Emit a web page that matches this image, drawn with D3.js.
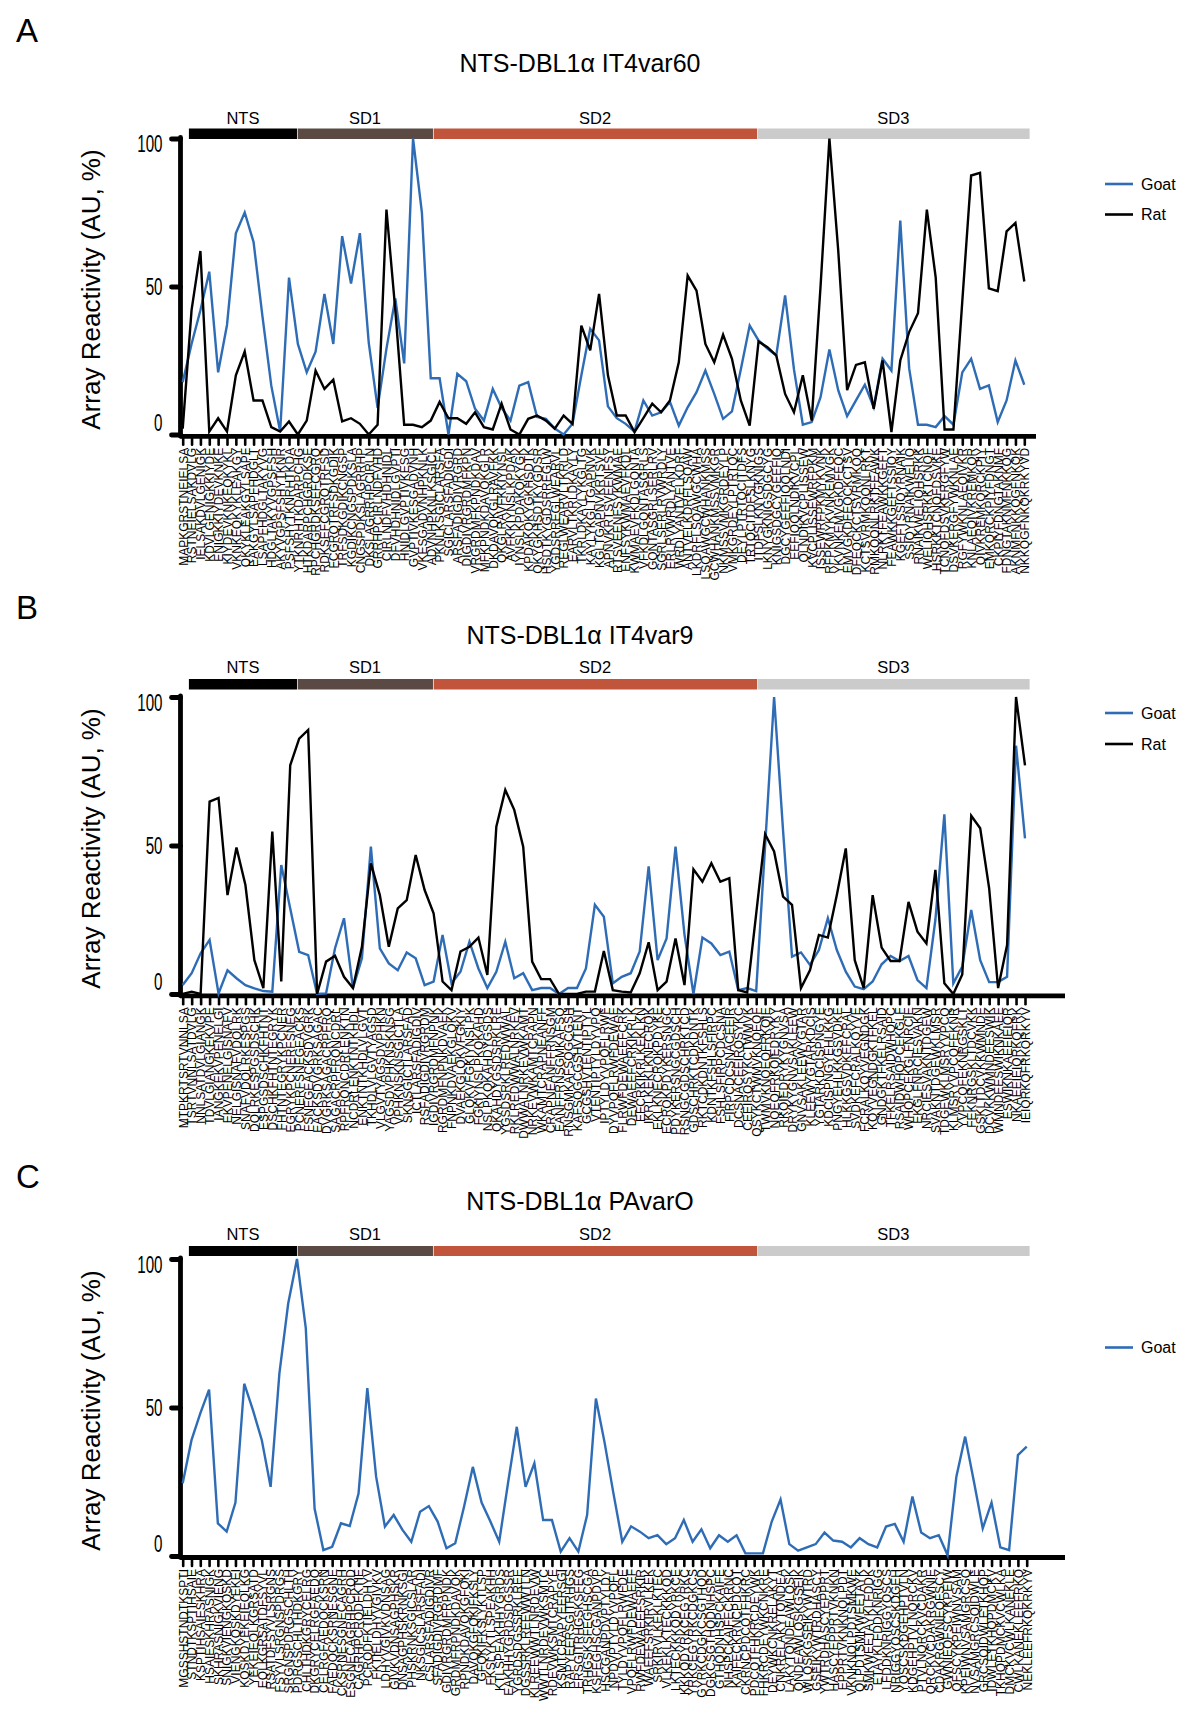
<!DOCTYPE html>
<html><head><meta charset="utf-8">
<script src="https://cdn.jsdelivr.net/npm/d3@7/dist/d3.min.js"></script>
<style>body{margin:0;background:#fff}</style>
</head><body>
<svg id="chart" width="1200" height="1724"></svg>
<script>
const FONT = '"Liberation Sans", Arial, Helvetica, sans-serif';

// ---------- domain annotation ----------
const domainNames = ["NTS", "SD1", "SD2", "SD3"];
const domainColors = ["#000000", "#5a4a43", "#c0553b", "#cbcbcb"];
const domainBounds = [0.7, 12.9, 28.25, 64.85, 95.6];   // peptide-position units
const seriesNames = ["Goat", "Rat"];
const seriesColors = ["#2f6cb6", "#000000"];
const yTicks = [0, 50, 100];

// ---------- Panel A : NTS-DBL1α IT4var60 ----------
const titleA = "NTS-DBL1α IT4var60";
const peptidesA = ["MAPKGRSTNEIELSA","RSTNEIELSAKDVLG","IELSAKDVLGENIGK","KDVLGENIGKKIYDE","ENIGKKIYDEVKNKE","KIYDEVKNKEQKYKL","VKNKEQKYKLEAKGY","QKYKLEAKGYLSAPF","EAKGYLSAPFHDGLT","LSAPFHDGLTAKYVG","HDGLTAKYVGPSFSH","AKYVGPSFSHYTKNR","PSFSHYTKNRHTKDA","YTKNRHTKDARPCHG","HTKDARPCHGRDKSE","RPCHGRDKSEFCGRQ","RDKSEFCGRQTRFSD","FCGRQTRFSDKGDIK","TRFSDKGDIKCNGSP","KGDIKCNGSPDKSLA","CNGSPDKSLAGRRHP","DKSLAGRRHPCIRLN","GRRHPCIRLNDFVHD","CIRLNDFVHDHNIDL","DFVHDHNIDLGVPTI","HNIDLGVPTIVKESG","GVPTIVKESGADVNH","VKESGADVNHPKNLK","ADVNHPKNLKSGICL","PKNLKSGICLARSFA","SGICLARSFADIGDI","ARSFADIGDIVRGRD","DIGDIVRGRDMFKPN","VRGRDMFKPNDKDAV","MFKPNDKDAVQKGLR","DKDAVQKGLRAVFKK","QKGLRAVFKKIYNSL","AVFKKIYNSLKPDAK","IYNSLKPDAKQKYGK","KPDAKQKYGKHSDTK","QKYGKHSDTKYGDSR","HSDTKYGDSRREGLW","YGDSRREGLWEARVL","REGLWEARVLTKRLD","EARVLTKRLDKAYLY","TKRLDKAYLYKGLTG","KAYLYKGLTGAPNVK","KGLTGAPNVKRTSVE","APNVKRTSVEENFSY","RTSVEENFSYKWMAE","ENFSYKWMAEVFKDL","KWMAEVFKDLGQNTA","VFKDLGQNTASGRLS","GQNTASGRLSERLRV","SGRLSERLRVWRDLY","ERLRVWRDLYANTVE","WRDLYANTVELKDRF","ANTVELKDRFLSQAW","LKDRFLSQAWGCWHA","LSQAWGCWHANKMSS","GCWHANKMSSVMKGR","NKMSSVMKGRDEYLP","VMKGRDEYLPTRTQC","DEYLPTRTQCITDFS","TRTQCITDFSLKNYG","ITDFSLKNYGKNIGS","LKNYGKNIGSDGCYG","KNIGSDGCYGEEFIQ","DGCYGEEFIQQLNDI","EEFIQQLNDIKVCPL","QLNDIKVCPLISSEW","KVCPLISSEWRFPKM","ISSEWRFPKMYKVNK","RFPKMYKVNKEMVGK","YKVNKEMVGKDFEQC","EMVGKDFEQCKCTSV","DFEQCKCTSVRMKQQ","KCTSVRMKQQNLRKT","RMKQQNLRKTFEAWK","NLRKTFEAWKKGEFT","FEAWKKGEFTSSIQY","KGEFTSSIQYRNAIK","SSIQYRNAIKWELIQ","RNAIKWELIQHSRKK","WELIQHSRKKTCNQF","HSRKKTCNQFDSVKE","TCNQFDSVKERGFYW","DSVKERGFYWKNLAE","RGFYWKNLAEQIVKR","KNLAEQIVKREMKQR","QIVKREMKQRCKPIY","EMKQRCKPIYFDNGT","CKPIYFDNGTAKNMF","FDNGTAKNMFNKKQG","AKNMFNKKQGFNKQK","NKKQGFNKQKRKYVD"];
const goatA = [17.7,30.6,42,55,21,37,68,75,65,40,16.5,1,53,30.6,21,28,47.5,30.6,67,51,68,31,9,29,46,24,100,75,19,19,0,20.5,18,8.7,4.7,15.4,9,4.7,16.5,17.7,5.9,5.3,2,0,3.6,20,35.7,31.8,9.5,5.5,3.6,1,11.5,6.4,7.5,11,3,9.2,14.3,21.6,13.7,5.3,7.8,22,36.8,31.8,29,26.7,47,22,3.3,4.2,12.6,28.7,14.9,6.2,11.5,16.8,9.2,25.6,21.6,72.3,22.4,3.3,3.3,2.5,6.2,3.3,21,25.6,15.4,16.6,4.2,11.5,25,16.8];
const ratA = [2,42,62,1,5.5,1,20,28,11.5,11.5,2.5,1,4.4,0,4.7,21.6,15.4,18.5,4.4,5.5,3.6,0,3.3,76,42,3.3,3.3,2.5,4.7,11,5.5,5.5,3.6,7.5,2.5,1.7,10.4,1.7,0,5.3,6.4,4.7,2,6.4,3.6,36.8,28.4,47.5,20,6.4,6.4,0.8,5.5,10.4,7.5,11.5,24.4,53.7,48.6,30.6,24.4,33.7,25.6,11.5,3,31.4,29.5,26.7,13.7,7.5,20,4.7,50,100,62,15,23.5,24.4,8.7,25,0.8,25,34.6,41,76,53,1.7,1.7,45,87.5,88.4,49.4,48.4,68.6,71.5,51.7];

// ---------- Panel B : NTS-DBL1α IT4var9 ----------
const titleB = "NTS-DBL1α IT4var9";
const peptidesB = ["MTPKRTSRTVNNLSA","TSRTVNNLSATDVLG","NNLSATDVLGIANGK","TDVLGIANGKEKVPE","IANGKEKVPENELGI","EKVPENELGISNAFV","NELGISNAFVDQLRK","SNAFVDQLRKESPGS","DQLRKESPGSDSCHK","ESPGSDSCHKFHTNT","DSCHKFHTNTEGRYK","FHTNTEGRYKPCNER","EGRYKPCNERFSNEG","PCNERFSNEGEACKS","FSNEGEACKSDVGRK","EACKSDVGRKSAGAC","DVGRKSAGACRPFRQ","SAGACRPFRQNCDRL","RPFRQNCDRLENKTN","NCDRLENKTNTKHDL","ENKTNTKHDLVLGVT","TKHDLVLGVTYAGSD","VLGVTYAGSDVPHKN","YAGSDVPHKNSKNSG","VPHKNSKNSGICTLA","SKNSGICTLARSFAD","ICTLARSFADIGDIV","RSFADIGDIVRGRDM","IGDIVRGRDMFNPNK","RGRDMFNPNKDVAEK","FNPNKDVAEKGLQKV","DVAEKGLQKVFGKIY","GLQKVFGKIYNSLPK","FGKIYNSLPKQKAHD","NSLPKQKAHDYGSDS","QKAHDYGSDSRKLRE","YGSDSRKLREDWWAL","RKLREDWWALNRKEV","DWWALNRKEVWKAMT","NRKEVWKAMTCRAPN","WKAMTCRAPNEANFF","CRAPNEANFFRNSGM","EANFFRNSGMKAFSQ","RNSGMKAFSQGCGSH","KAFSQGCGSHVTENT","GCGSHVTENTIPTYL","VTENTIPTYLDYVPQ","IPTYLDYVPQFLRWF","DYVPQFLRWFDEWAE","FLRWFDEWAEEFCRK","DEWAEEFCRKIKRLK","EFCRKIKRLKEKLKN","IKRLKEKLKNECRQK","EKLKNECRQKPDYKE","ECRQKPDYKERSNGC","PDYKERSNGCGDSCH","RSNGCGDSCHRKTCD","GDSCHRKTCDKDNTK","RKTCDKDNTKFSHLS","KDNTKFSHLSFIRPC","FSHLSFIRPCDCSNA","FIRPCDCSNACEEIR","DCSNACEEIRQSYKC","CEEIRQSYKCTWMVK","QSYKCTWMVKNQEQF","TWMVKNQEQFRKQIE","NQEQFRKQIEDRYKY","RKQIEDRYKYGNVSA","DRYKYGNVSAKLEEW","GNVSAKLEEWYGTAR","KLEEWYGTARKDCIS","YGTARKDCISPNGYE","KDCISPNGYEHLKKG","PNGYEHLKKGSVDKE","HLKKGSVDKEFCRAL","SVDKEFCRALKQYVE","FCRALKQYVEGNDGK","KQYVEGNDGKTFKEL","GNDGKTFKELRSAID","TFKELRSAIDWHQPC","RSAIDWHQPCEKGLF","WHQPCEKGLFNRCIE","EKGLFNRCIESVAKN","NRCIESVAKNTDGEW","SVAKNTDGEWKLMSR","TDGEWKLMSRYVPCQ","KLMSRYVPCQFEKNR","YVPCQFEKNRGSKLT","FEKNRGSKLTDCVKK","GSKLTDCVKKWMNDE","DCVKKWMNDEESWIK","WMNDEESWIKNKAEE","ESWIKNKAEEIEIQR","NKAEEIEIQRKQFRK","IEIQRKQFRKQRKYV"];
const goatB = [3,7,13.7,18.2,0.2,8,5.3,3,1.9,1,0.8,43.4,28.8,14.2,13.1,0,0.2,15.4,25.5,2,12,49.6,15.4,10.3,8,14,12,3,4.2,19.9,3.6,7.5,17.6,8.6,2,7.5,17.6,5.3,7,1.3,2,2,0,2,2,8.6,30,26,3.6,5.8,7,14.3,43,11.4,18.7,49.6,20,0,19,17,13.1,14.3,1.3,2,1,50,100,55,12.6,14,9.8,14.8,25.5,14.8,7.5,2.5,1.6,4.2,10,12.8,11.1,12.8,4.7,2,25,60.5,3.6,9.2,28.3,11.4,4,4,5.8,83.6,52.4];
const ratB = [0,0.8,0,64.8,66,33.3,49.3,36.7,11.4,2,54.7,4.2,77,86,88.9,0,10.9,12.9,5.8,2,15.9,44,33.3,15.9,28.8,31.6,46.8,35,27.2,4.2,1.3,14.3,15.9,19,6.4,56.3,68.7,62,49.6,10.9,5,5,0,0,0,0.8,0.8,14.5,1.3,0.8,0.5,7,17.4,1.3,4.2,18.7,3,42,37.8,44,37.8,39,1.3,0.5,27,53.8,48,32.8,30,2,8,19.9,19,33.3,49,11.4,2,33.3,15.6,11.1,11.1,31,21,17,41.8,3.6,0,6.6,60,55.8,35.6,2,16.5,100,77];

// ---------- Panel C : NTS-DBL1α PAvarO ----------
const titleC = "NTS-DBL1α PAvarO";
const peptidesC = ["MGSSHSTNDTKSPTI","STNDTKSPTIHSAIE","KSPTIHSAIESKHRA","HSAIESKHRASNIGK","SKHRASNIGKVIENG","SNIGKVIENGKQSKD","VIENGKQSKDYEKEI","KQSKDYEKEIEQLKG","YEKEIEQLKGRSATD","EQLKGRSATDFSYVL","RSATDFSYVLSRGNS","FSYVLSRGNSPDRGS","SRGNSPDRGSCHLTH","PDRGSCHLTHDKGRY","CHLTHDKGRYCELRG","DKGRYCELRGFAEDQ","CELRGFAEDQCKSRN","FAEDQCKSRNESGNE","CKSRNESGNECAGRH","ESGNECAGRHPCRQD","CAGRHPCRQDFKTIE","PCRQDFKTIELDHYV","FKTIELDHYVGIVKV","LDHYVGIVKVDNSAG","GIVKVDNSAGPHSKR","DNSAGPHSKRNKSGI","PHSKRNKSGICSLAR","NKSGICSLARSFADI","CSLARSFADIGDIVR","SFADIGDIVRGRDMF","GDIVRGRDMFRPNDK","GRDMFRPNDKDAVQK","RPNDKDAVQKGFQKI","DAVQKGFQKIFKSLY","GFQKIFKSLYKTLSP","FKSLYKTLSPEAKHH","KTLSPEAKHHYGRDS","EAKHHYGRDSDGSSR","YGRDSDGSSRKLREE","DGSSRKLREEWWTLN","KLREEWWTLNRDEVW","WWTLNRDEVWKSMTC","RDEVWKSMTCRAPYE","KSMTCRAPYEERSGI","RAPYEERSGITRHGS","ERSGITRHGSKSFEG","TRHGSKSFEGHSCGA","KSFEGHSCGANPDVP","HSCGANPDVPTYLDY","NPDVPTYLDYVPQFL","TYLDYVPQFLRWFDE","VPQFLRWFDEWAEEF","RWFDEWAEEFSRKIR","WAEEFSRKIRVLKEK","SRKIRVLKEKLKTEC","VLKEKLKTECKKKQD","LKTECKKKQDYRKCE","KKKQDYRKCEGYRKC","YRKCEGYRKCDGKCS","GYRKCDGKCSGTHQD","DGKCSGTHQDNHSPC","GTHQDNHSPCKAIFE","NHSPCKAIFECKRNC","KAIFECKRNCPDCQT","CKRNCPDCQTFHKRC","PDCQTFHKRCDEYWK","FHKRCDEYWKCNKRE","DEYWKCNKRELAKYT","CNKRELAKYTQNDEA","LAKYTQNDEAWLQSK","QNDEAWLQSKGSEIK","WLQSKGSEIKYWTRD","GSEIKYWTRDHASCY","YWTRDHASCYEPPRT","HASCYEPPRTVKNKN","EPPRTVKNKNQLPDT","VKNKNQLPDTSMKWE","QLPDTSMKWEETAYK","SMKWEETAYKLFDDK","ETAYKLFDDKNRIGG","LFDDKNRIGGYQSCS","NRIGGYQSCSKDGEH","YQSCSKDGEHPTVLN","KDGEHPTVLNQRCKV","PTVLNQRCKVCDAKR","QRCKVCDAKRGWNIE","CDAKRGWNIEQFSCY","GWNIEQFSCYKPEIW","QFSCYKPEIWNVSAM","KPEIWNVSAMGRCSQ","NVSAMGRCSQIDWLE","GRCSQIDWLETKHQP","IDWLETKHQPDMCKV","TKHQPDMCKVCWLKA","DMCKVCWLKANEKLE","CWLKANEKLEEFRKQ","NEKLEEFRKQKRKYV"];
const goatC = [24.5,39,48,56,11,8.2,18,58,49,39,23.3,61.5,85,100,76.7,16,2,3.1,11,10.1,21,56.5,26.7,9.9,13.8,8.8,4.8,14.9,16.8,11.6,2.6,4.3,16.6,30,18,11.6,4.8,24.5,43.5,23.3,31.2,12.1,12.1,1.5,6,1.5,13.8,53,38,21,4.8,10,8.2,6,7,4,6,12.1,4.8,9,2.6,7,4.8,7,0.9,0.9,0.9,11.6,19,4,1.8,2.9,4,7.9,5.2,4.8,2.9,6,4,2.9,9.9,10.8,4.8,20,7.9,6,7,0.3,26.7,40.2,25,9.3,18,2.9,2,34,36.8];

// ---------- layout ----------
const panels = [
  {letter:"A", title:titleA, labels:peptidesA, series:[goatA, ratA], xEnd:1024.3, axisEnd:1036,
   letterY:42, titleY:71.5, domLabelY:124, barY:128.5, barH:10.5, y0:434.5, y100:138.5, axisY:436.3, legendY:[184, 214.5]},
  {letter:"B", title:titleB, labels:peptidesB, series:[goatB, ratB], xEnd:1025, axisEnd:1065,
   letterY:619, titleY:643.5, domLabelY:673, barY:679, barH:10.5, y0:994, y100:697, axisY:995.8, legendY:[713, 744]},
  {letter:"C", title:titleC, labels:peptidesC, series:[goatC], xEnd:1026.7, axisEnd:1065,
   letterY:1188, titleY:1210, domLabelY:1240, barY:1246, barH:10, y0:1556, y100:1259, axisY:1557.5, legendY:[1347.5]}
];

const svg = d3.select("#chart").style("font-family", FONT);
svg.append("rect").attr("width",1200).attr("height",1724).attr("fill","#fff");

const barScale = d3.scaleLinear().domain([0, 95]).range([182.7, 1024.3]);
const X0 = 182.7, YAXIS_X = 180.5;
const TICK_SX = 0.66;

panels.forEach(p => {
  const g = svg.append("g");
  const n = p.labels.length;
  const x = d3.scalePoint().domain(d3.range(n)).range([X0, p.xEnd]);
  const y = d3.scaleLinear().domain([0, 100]).range([p.y0, p.y100]);

  g.append("text").attr("x", 16).attr("y", p.letterY).attr("font-size", 33).text(p.letter);
  g.append("text").attr("x", 580).attr("y", p.titleY).attr("text-anchor","middle")
    .attr("font-size", 25).text(p.title);

  // domain bars
  domainNames.forEach((nm, k) => {
    const a = barScale(domainBounds[k]), b = barScale(domainBounds[k+1]);
    g.append("rect").attr("x", a + (k ? 0.7 : 0)).attr("y", p.barY)
      .attr("width", b - a - (k ? 0.7 : 0)).attr("height", p.barH).attr("fill", domainColors[k]);
    g.append("text").attr("x", (a+b)/2).attr("y", p.domLabelY).attr("text-anchor","middle")
      .attr("font-size", 16.5).text(nm);
  });

  // x axis with peptide labels
  const xAxis = d3.axisBottom(x).tickSize(7).tickSizeOuter(0).tickFormat(i => p.labels[i]);
  const gx = g.append("g").attr("transform", `translate(0,${p.axisY+1.5})`).call(xAxis);
  gx.select(".domain").remove();
  gx.selectAll(".tick line").attr("stroke","#000").attr("stroke-width",2.6).attr("stroke-linecap","round");
  gx.selectAll(".tick text").attr("transform","rotate(-90)").attr("text-anchor","end")
    .attr("x", -10).attr("y", 0).attr("dy","0.36em").attr("font-size", 12)
    .attr("font-family", FONT).attr("fill","#000");
  g.append("line").attr("x1", YAXIS_X).attr("x2", p.axisEnd).attr("y1", p.axisY).attr("y2", p.axisY)
    .attr("stroke","#000").attr("stroke-width",4.8);

  // y axis
  const yAxis = d3.axisLeft(y).tickValues(yTicks).tickSize(9).tickPadding(8).tickSizeOuter(0);
  const gy = g.append("g").attr("transform", `translate(${YAXIS_X},0)`).call(yAxis);
  gy.select(".domain").remove();
  gy.selectAll(".tick line").attr("stroke","#000").attr("stroke-width",4.8).attr("stroke-linecap","round");
  gy.selectAll(".tick text").attr("font-size", 23).attr("font-family", FONT).attr("fill","#000")
    .attr("x", -18 / TICK_SX).attr("transform", `scale(${TICK_SX},1)`)
    .attr("dy", d => d === 0 ? "-0.18em" : d === 100 ? "0.58em" : "0.33em");
  g.append("line").attr("x1", YAXIS_X).attr("x2", YAXIS_X).attr("y1", p.y100 - 1).attr("y2", p.axisY)
    .attr("stroke","#000").attr("stroke-width",4.8).attr("stroke-linecap","round");

  g.append("text").attr("transform", `translate(100,${(p.y0+p.y100)/2 + 3}) rotate(-90)`)
    .attr("text-anchor","middle").attr("font-size", 26).text("Array Reactivity (AU, %)");

  const line = d3.line().x((d,i) => x(i)).y(d => y(d));
  p.series.forEach((s, k) => {
    g.append("path").datum(s).attr("d", line).attr("fill","none")
      .attr("stroke", seriesColors[k]).attr("stroke-width", 2.4).attr("stroke-linejoin","miter");
  });

  // legend
  p.legendY.forEach((ly, k) => {
    g.append("line").attr("x1",1105).attr("x2",1133).attr("y1",ly).attr("y2",ly)
      .attr("stroke", seriesColors[k]).attr("stroke-width",2.6);
    g.append("text").attr("x",1141).attr("y",ly).attr("dy","0.35em").attr("font-size",16).text(seriesNames[k]);
  });
});
</script>
</body></html>
